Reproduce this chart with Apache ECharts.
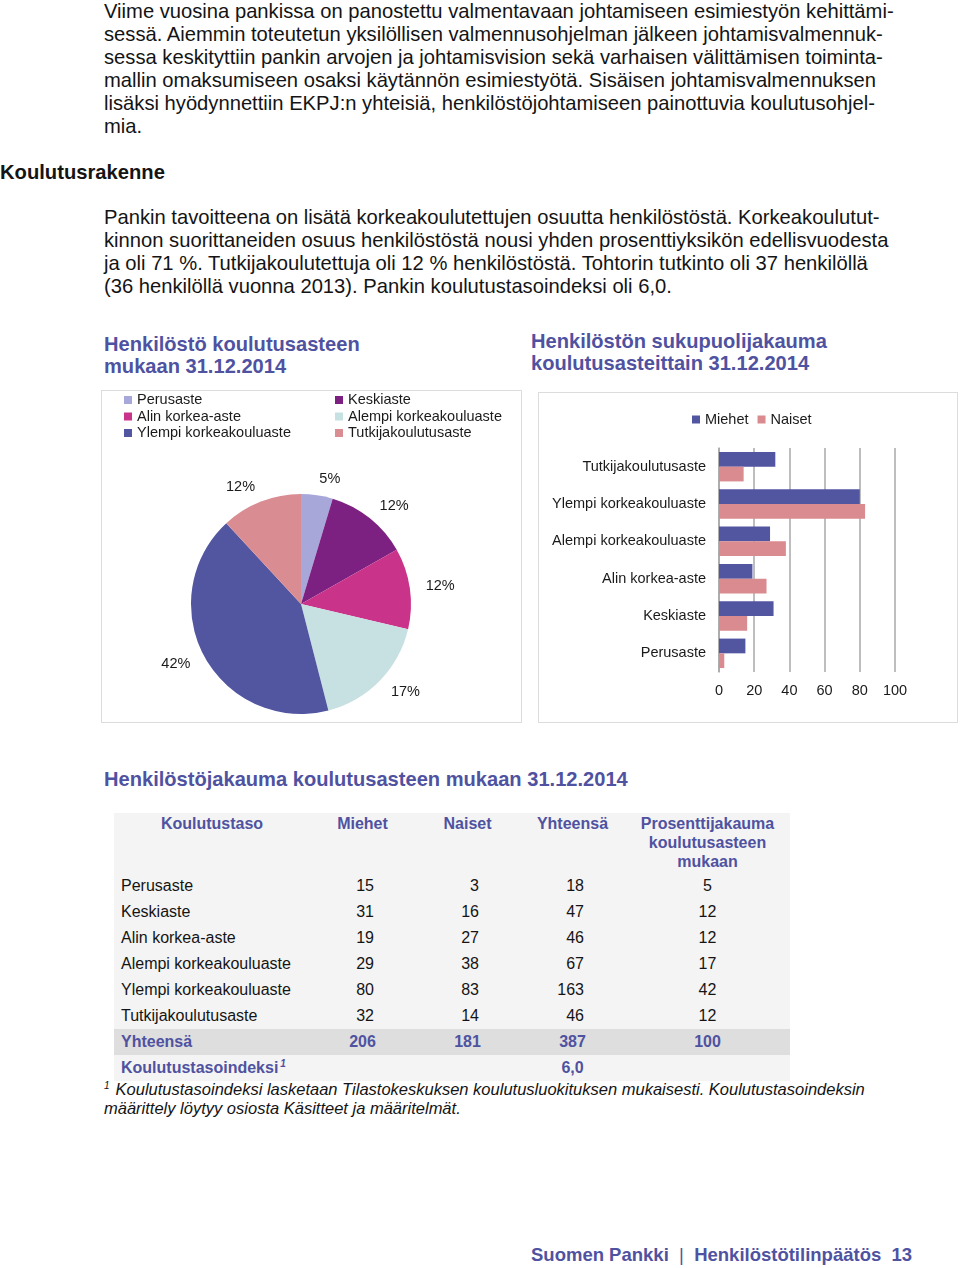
<!DOCTYPE html>
<html><head><meta charset="utf-8">
<script src="https://cdn.jsdelivr.net/npm/echarts@6/dist/echarts.min.js"></script>
<style>
html,body{margin:0;padding:0;background:#fff;}
body{width:960px;height:1268px;position:relative;overflow:hidden;font-family:"Liberation Sans",Arial,sans-serif;color:#141414;}
.abs{position:absolute;white-space:nowrap;}
.para{font-size:20.2px;line-height:23px;}
.title{font-weight:bold;color:#4f52a0;font-size:20.1px;line-height:22px;}
.box{position:absolute;border:1.5px solid #dcdcdc;box-sizing:border-box;}
#tbl{position:absolute;left:114px;top:813px;width:676px;background:#f4f4f4;font-size:16px;}
#tbl table{border-collapse:collapse;width:676px;table-layout:fixed;}
#tbl td{padding:0;height:26px;line-height:26px;white-space:nowrap;}
#tbl tr.hdr td{height:59px;vertical-align:top;line-height:19px;font-weight:bold;color:#4f52a0;text-align:center;padding-top:1px;}
#tbl td.lab{padding-left:7px;}
#tbl td.num{text-align:right;padding-right:41px;}
#tbl td.pct{text-align:center;}
#tbl tr.sum td{background:#dedede;}
#tbl tr.sum td, #tbl tr.idx td{font-weight:bold;color:#4f52a0;text-align:center;}
#tbl tr.sum td.lab, #tbl tr.idx td.lab{text-align:left;}
.sup{font-size:10px;font-style:italic;position:relative;top:-6px;line-height:0;}
.foot{font-style:italic;font-size:16.5px;line-height:19px;}
</style></head>
<body>
<div class="abs para" style="left:104px;top:0px;">Viime vuosina pankissa on panostettu valmentavaan johtamiseen esimiestyön kehittämi-<br>sessä. Aiemmin toteutetun yksilöllisen valmennusohjelman jälkeen johtamisvalmennuk-<br>sessa keskityttiin pankin arvojen ja johtamisvision sekä varhaisen välittämisen toiminta-<br>mallin omaksumiseen osaksi käytännön esimiestyötä. Sisäisen johtamisvalmennuksen<br>lisäksi hyödynnettiin EKPJ:n yhteisiä, henkilöstöjohtamiseen painottuvia koulutusohjel-<br>mia.</div>
<div class="abs para" style="left:0px;top:161px;font-weight:bold;">Koulutusrakenne</div>
<div class="abs para" style="left:104px;top:206px;">Pankin tavoitteena on lisätä korkeakoulutettujen osuutta henkilöstöstä. Korkeakoulutut-<br>kinnon suorittaneiden osuus henkilöstöstä nousi yhden prosenttiyksikön edellisvuodesta<br>ja oli 71 %. Tutkijakoulutettuja oli 12 % henkilöstöstä. Tohtorin tutkinto oli 37 henkilöllä<br>(36 henkilöllä vuonna 2013). Pankin koulutustasoindeksi oli 6,0.</div>

<div class="abs title" style="left:104px;top:333px;">Henkilöstö koulutusasteen<br>mukaan 31.12.2014</div>
<div class="abs title" style="left:531px;top:330px;">Henkilöstön sukupuolijakauma<br>koulutusasteittain 31.12.2014</div>

<div class="box" id="pie" style="left:101px;top:390px;width:421px;height:333px;"></div>
<div class="box" id="bar" style="left:538px;top:392px;width:420px;height:331px;"></div>

<div class="abs title" style="left:104px;top:768px;">Henkilöstöjakauma koulutusasteen mukaan 31.12.2014</div>

<div id="tbl"></div>

<div class="abs foot" style="left:104px;top:1080px;"><span class="sup" style="margin-right:6px;">1</span>Koulutustasoindeksi lasketaan Tilastokeskuksen koulutusluokituksen mukaisesti. Koulutustasoindeksin<br>määrittely löytyy osiosta Käsitteet ja määritelmät.</div>

<div class="abs" style="left:531px;top:1244px;font-weight:bold;font-size:18.5px;line-height:22px;color:#4f52a0;">Suomen Pankki&nbsp; <span style="font-weight:normal;">|</span>&nbsp; Henkilöstötilinpäätös&nbsp; 13</div>

<script>
// ---- data ----
var categories = ['Perusaste', 'Keskiaste', 'Alin korkea-aste', 'Alempi korkeakouluaste', 'Ylempi korkeakouluaste', 'Tutkijakoulutusaste'];
var miehet = [15, 31, 19, 29, 80, 32];
var naiset = [3, 16, 27, 38, 83, 14];
var yhteensa = [18, 47, 46, 67, 163, 46];
var prosentti = [5, 12, 12, 17, 42, 12];
var totals = { miehet: 206, naiset: 181, yhteensa: 387, prosentti: 100 };
var indeksi = '6,0';
var headers = ['Koulutustaso', 'Miehet', 'Naiset', 'Yhteensä', 'Prosenttijakauma<br>koulutusasteen<br>mukaan'];
var xTicks = [0, 20, 40, 60, 80, 100];
var pieColors = ['#a7a7d9', '#7c2181', '#c9348a', '#c7e0e2', '#5256a0', '#d98d93'];

// ---- table ----
(function () {
  var h = '<table><colgroup><col style="width:196px"><col style="width:105px"><col style="width:105px"><col style="width:105px"><col style="width:165px"></colgroup>';
  h += '<tr class="hdr">' + headers.map(function (t) { return '<td>' + t + '</td>'; }).join('') + '</tr>';
  for (var i = 0; i < categories.length; i++) {
    h += '<tr><td class="lab">' + categories[i] + '</td><td class="num">' + miehet[i] + '</td><td class="num">' + naiset[i] + '</td><td class="num">' + yhteensa[i] + '</td><td class="pct">' + prosentti[i] + '</td></tr>';
  }
  h += '<tr class="sum"><td class="lab">Yhteensä</td><td>' + totals.miehet + '</td><td>' + totals.naiset + '</td><td>' + totals.yhteensa + '</td><td>' + totals.prosentti + '</td></tr>';
  h += '<tr class="idx"><td class="lab">Koulutustasoindeksi<span class="sup">&thinsp;1</span></td><td></td><td></td><td>' + indeksi + '</td><td></td></tr>';
  h += '</table>';
  document.getElementById('tbl').innerHTML = h;
})();

// ---- pie ----
var pie = echarts.init(document.getElementById('pie'), null, { renderer: 'canvas' });
var legendText = { fontSize: 14.5, color: '#1a1a1a', fontFamily: 'Liberation Sans, Arial, sans-serif', lineHeight: 16 };
pie.setOption({
  animation: false,
  color: pieColors,
  legend: [
    { data: [categories[0], categories[2], categories[4]], orient: 'vertical', left: 22, top: 1, icon: 'rect', itemWidth: 8, itemHeight: 8, itemGap: 0.5, textStyle: legendText, padding: 0, selectedMode: false },
    { data: [categories[1], categories[3], categories[5]], orient: 'vertical', left: 233, top: 1, icon: 'rect', itemWidth: 8, itemHeight: 8, itemGap: 0.5, textStyle: legendText, padding: 0, selectedMode: false }
  ],
  series: [{
    type: 'pie',
    center: [199, 213],
    radius: 110,
    startAngle: 90,
    avoidLabelOverlap: false,
    label: {
      show: true, position: 'outside',
      formatter: function (p) { return prosentti[p.dataIndex] + '%'; },
      fontSize: 14.5, color: '#1a1a1a', fontFamily: 'Liberation Sans, Arial, sans-serif', distanceToLabelLine: 0
    },
    labelLine: { show: false, length: 16, length2: 0 },
    data: categories.map(function (c, i) { return { name: c, value: yhteensa[i] }; })
  }]
});

// ---- bar ----
var bar = echarts.init(document.getElementById('bar'), null, { renderer: 'canvas' });
var axText = { fontSize: 14.5, color: '#1a1a1a', fontFamily: 'Liberation Sans, Arial, sans-serif' };
bar.setOption({
  animation: false,
  legend: { data: ['Miehet', 'Naiset'], left: 153, top: 19, icon: 'rect', itemWidth: 8, itemHeight: 8, itemGap: 9, textStyle: axText, padding: 0, selectedMode: false },
  grid: { left: 180, right: 62, top: 55, bottom: 50, containLabel: false },
  xAxis: {
    type: 'value', min: 0, max: 100, interval: 20,
    axisLine: { show: false }, axisTick: { show: false },
    splitLine: { show: true, lineStyle: { color: '#a8a8a8', width: 1.5 } },
    axisLabel: { fontSize: 14.5, color: '#1a1a1a', margin: 11, fontFamily: 'Liberation Sans, Arial, sans-serif',
      formatter: function (v) { return xTicks.indexOf(v) >= 0 ? String(v) : ''; } }
  },
  yAxis: {
    type: 'category', data: categories,
    axisLine: { show: true, lineStyle: { color: '#a8a8a8', width: 1.5 } }, axisTick: { show: false },
    axisLabel: { fontSize: 14.5, color: '#1a1a1a', margin: 13, fontFamily: 'Liberation Sans, Arial, sans-serif' }
  },
  series: [
    { name: 'Miehet', type: 'bar', data: miehet, itemStyle: { color: '#5256a0' }, barGap: '0%', barCategoryGap: '21%' },
    { name: 'Naiset', type: 'bar', data: naiset, itemStyle: { color: '#d98b90' }, barGap: '0%', barCategoryGap: '21%' }
  ]
});
</script>
</body></html>
